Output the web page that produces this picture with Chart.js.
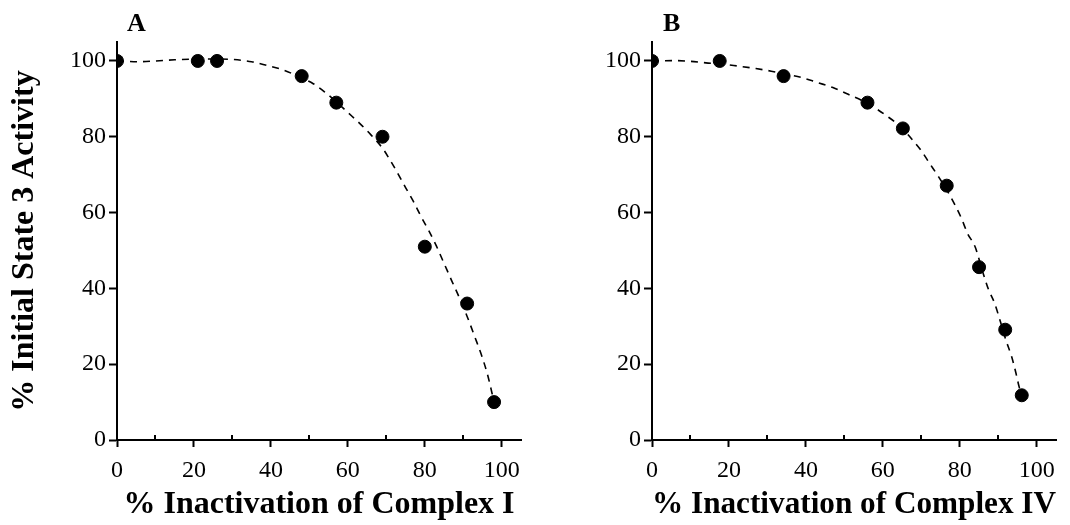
<!DOCTYPE html>
<html lang="en">
<head>
<meta charset="UTF-8">
<title>State 3 activity vs complex inactivation</title>
<script src="https://cdn.jsdelivr.net/npm/chart.js@4"></script>
<style>
    body { margin: 0; background: #fff; width: 1070px; height: 525px; overflow: hidden; font-family: "Liberation Serif", serif; }
    .panel { position: absolute; top: 0; width: 535px; height: 525px; }
    .tag { position: absolute; top: 8px; font: bold 26px/1.15 "Liberation Serif", serif; color: #000; }
</style>
</head>
<body>
<div class="panel" style="left:0"><canvas id="chartA" width="535" height="525"></canvas></div>
<div class="panel" style="left:535px"><canvas id="chartB" width="535" height="525"></canvas></div>
<div class="tag" style="left:127px">A</div>
<div class="tag" style="left:663px">B</div>

<script>
// Panel A: Complex I
const pointsAx = [0, 21, 26, 48, 57, 69, 80, 91, 98];
const pointsAy = [100, 100, 100, 96, 89, 80, 51, 36, 10];
const curveAx = [0, 6, 10, 15, 21, 26, 30, 35, 39, 43, 48, 51, 54, 57, 60, 63, 66, 69, 71, 73, 75, 77, 79, 81, 83, 85, 87, 89, 91, 93, 95, 96.5, 97.5, 98];
const curveAy = [100, 99.8, 100, 100.3, 100.5, 100.5, 100.4, 99.8, 98.8, 97.7, 95.5, 94.0, 91.8, 89.2, 86.4, 83.6, 80.5, 77.0, 73.8, 70.3, 66.6, 63.0, 59.0, 55.3, 51.2, 46.6, 42.0, 37.5, 32.6, 27.2, 21.6, 16.5, 12.2, 10];

// Panel B: Complex IV
const pointsBx = [0, 17.6, 34.2, 56, 65.2, 76.6, 85, 91.8, 96.1];
const pointsBy = [100, 100, 96, 89, 82.2, 67.1, 45.6, 29.1, 11.8];
const curveBx = [0, 6, 10, 14, 18, 22, 27, 31, 35, 39, 43, 47, 51, 56, 61, 65, 67.5, 70, 72, 74.5, 77, 79, 80.5, 82, 84, 86, 87.5, 89, 90.5, 92, 93.5, 94.6, 95.3, 96];
const curveBy = [100, 100.1, 99.9, 99.5, 99.2, 98.7, 98.0, 97.3, 96.5, 95.6, 94.3, 93.0, 91.2, 88.8, 85.5, 82.3, 79.4, 76.3, 73.2, 69.4, 65.3, 61.5, 58.3, 54.5, 50.9, 44.2, 39.6, 36.2, 31.4, 26.3, 21.9, 17.6, 14.5, 11.8];

const xTicks = [0, 20, 40, 60, 80, 100];
const xMinorTicks = [10, 30, 50, 70, 90];
const yTicks = [0, 20, 40, 60, 80, 100];
const yLabel = '% Initial State 3 Activity';

const toXY = (xs, ys) => xs.map((x, i) => ({ x: x, y: ys[i] }));

// small upward ticks between the labelled ones on the x axis
const minorTickPlugin = {
    id: 'minorTicks',
    afterDraw(chart) {
        const ctx = chart.ctx;
        const xs = chart.scales.x;
        const y0 = chart.chartArea.bottom;
        ctx.save();
        ctx.strokeStyle = '#000';
        ctx.lineWidth = 2;
        xMinorTicks.forEach(v => {
            const px = Math.round(xs.getPixelForValue(v));
            ctx.beginPath();
            ctx.moveTo(px, y0);
            ctx.lineTo(px, y0 - 5);
            ctx.stroke();
        });
        ctx.restore();
    }
};

function makeChart(id, px, py, cx, cy, xTitle, yTitle) {
    return new Chart(document.getElementById(id), {
        type: 'scatter',
        data: {
            datasets: [{
                data: toXY(px, py),
                backgroundColor: '#000',
                borderColor: '#000',
                pointRadius: 6.5,
                pointHoverRadius: 6.5,
                order: 1
            }, {
                data: toXY(cx, cy),
                showLine: true,
                borderColor: '#000',
                borderWidth: 1.6,
                borderDash: [7, 6],
                pointRadius: 0,
                cubicInterpolationMode: 'monotone',
                fill: false,
                order: 2
            }]
        },
        options: {
            responsive: false,
            animation: false,
            devicePixelRatio: 1,
            layout: { padding: { left: 0, right: 14, top: 42, bottom: 0 } },
            plugins: { legend: { display: false }, tooltip: { enabled: false } },
            scales: {
                x: {
                    type: 'linear',
                    min: 0,
                    max: 105,
                    afterFit: s => { s.height = 85; },
                    afterBuildTicks: s => { s.ticks = xTicks.map(v => ({ value: v })); },
                    border: { color: '#000', width: 2 },
                    grid: { drawOnChartArea: false, tickLength: 7, tickColor: '#000', tickWidth: 2 },
                    ticks: { color: '#000', padding: 9, maxRotation: 0, font: { family: 'Liberation Serif', size: 24 } },
                    title: {
                        display: true,
                        text: xTitle,
                        color: '#000',
                        padding: { top: 0, bottom: 1 },
                        font: { family: 'Liberation Serif', size: 32, weight: 'bold' }
                    }
                },
                y: {
                    min: 0,
                    max: 105,
                    afterFit: s => { s.width = 117; },
                    afterBuildTicks: s => { s.ticks = yTicks.map(v => ({ value: v })); },
                    border: { color: '#000', width: 2 },
                    grid: { drawOnChartArea: false, tickLength: 8, tickColor: '#000', tickWidth: 2 },
                    ticks: { color: '#000', padding: 3, font: { family: 'Liberation Serif', size: 24 } },
                    title: {
                        display: !!yTitle,
                        text: yTitle,
                        color: '#000',
                        padding: { top: 6, bottom: 0 },
                        font: { family: 'Liberation Serif', size: 32, weight: 'bold' }
                    }
                }
            }
        },
        plugins: [minorTickPlugin]
    });
}

makeChart('chartA', pointsAx, pointsAy, curveAx, curveAy, '% Inactivation of Complex I', yLabel);
makeChart('chartB', pointsBx, pointsBy, curveBx, curveBy, '% Inactivation of Complex IV', '');
</script>
</body>
</html>
